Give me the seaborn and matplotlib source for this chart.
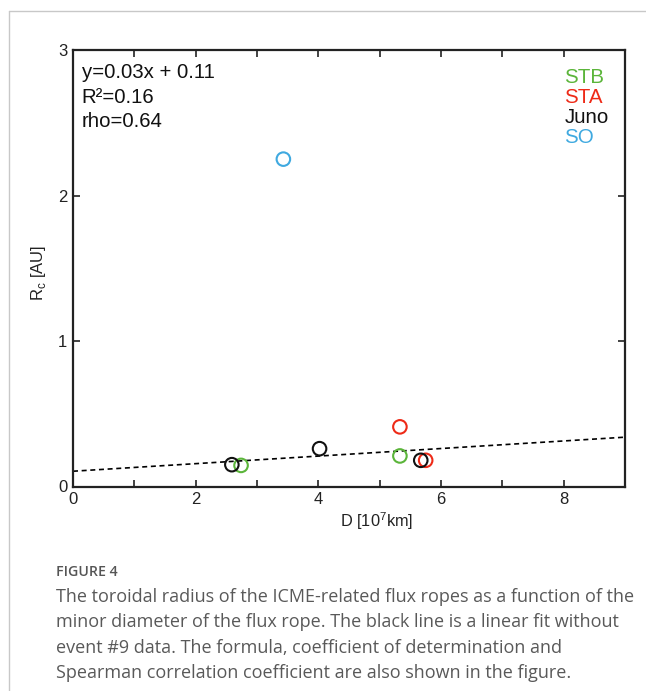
import numpy as np
import pandas as pd
import seaborn as sns
import matplotlib.pyplot as plt
from matplotlib.lines import Line2D

# values: minor diameter D [10^7 km] vs toroidal radius Rc [AU]
stb_d = [2.74, 5.33]
stb_r = [0.145, 0.21]
sta_d = [5.33, 5.75]
sta_r = [0.41, 0.18]
juno_d = [2.59, 4.02, 5.67]
juno_r = [0.15, 0.26, 0.18]
so_d = [3.43]
so_r = [2.25]

spacecraft = ["STB", "STA", "Juno", "SO"]
colours = ["#5bb53a", "#ee2a17", "#111111", "#3fa9e0"]

# linear fit (without event #9)
fit_slope = 0.026
fit_intercept = 0.105
fit_x = [0, 9]

df = pd.concat([
    pd.DataFrame({"D": stb_d, "Rc": stb_r, "sc": "STB"}),
    pd.DataFrame({"D": sta_d, "Rc": sta_r, "sc": "STA"}),
    pd.DataFrame({"D": juno_d, "Rc": juno_r, "sc": "Juno"}),
    pd.DataFrame({"D": so_d, "Rc": so_r, "sc": "SO"}),
], ignore_index=True)

sns.set_style("ticks")
plt.rcParams["font.family"] = ["Liberation Sans", "DejaVu Sans"]
plt.rcParams["mathtext.fontset"] = "custom"
plt.rcParams["mathtext.rm"] = "Liberation Sans"

fig = plt.figure(figsize=(6.46, 6.91), dpi=100)
ax = fig.add_axes([73 / 646, 1 - 486.5 / 691, 552 / 646, 436.5 / 691])

fit_y = [fit_slope * v + fit_intercept for v in fit_x]
sns.lineplot(x=fit_x, y=fit_y, ax=ax, color="black", linestyle=(0, (3, 2.2)),
             linewidth=1.2, zorder=1)

sns.scatterplot(data=df, x="D", y="Rc", hue="sc", hue_order=spacecraft,
                palette=dict(zip(spacecraft, colours)), s=95, legend=False,
                ax=ax, zorder=3)
# open circles, coloured edges
pts = ax.collections[-1]
fc = pts.get_facecolors()
pts.set_edgecolors(fc)
pts.set_facecolors("none")
pts.set_linewidths(1.5)

ax.set_xlim(0, 9)
ax.set_ylim(0, 3)
ax.set_xticks(np.arange(0, 10, 1))
ax.set_xticklabels(["0", "", "2", "", "4", "", "6", "", "8", ""])
ax.set_yticks([0, 1, 2, 3])
ax.tick_params(direction="in", length=5, width=1.2, top=True, right=True,
               labelsize=12, colors="#222222", pad=4)
for sp in ax.spines.values():
    sp.set_visible(True)
    sp.set_linewidth(1.6)
    sp.set_color("#222222")

ax.set_xlabel("D [10$^\\mathregular{7}$km]", fontsize=11.8, color="#222222")
ax.xaxis.set_label_coords(0.551, -0.055)
ax.set_ylabel("R$_\\mathregular{c}$ [AU]", fontsize=12, color="#222222")
ax.yaxis.set_label_coords(-0.045, 0.49)

stats = ["y=0.03x + 0.11", "R\u00b2=0.16", "rho=0.64"]
for i, t in enumerate(stats):
    ax.text(0.016, 0.948 - i * 0.056, t, transform=ax.transAxes, fontsize=14.7,
            va="center", ha="left", color="#111111")

for i, (name, c) in enumerate(zip(spacecraft, colours)):
    ax.text(0.89, 0.938 - i * 0.046, name, transform=ax.transAxes, fontsize=14.8,
            va="center", ha="left", color=c)

# page frame
fig.add_artist(Line2D([9 / 646, 1], [1 - 11 / 691, 1 - 11 / 691],
                      transform=fig.transFigure, color="#c8c8c8", linewidth=1))
fig.add_artist(Line2D([9 / 646, 9 / 646], [1 - 11 / 691, 0],
                      transform=fig.transFigure, color="#c8c8c8", linewidth=1))

cap_font = ["Open Sans", "DejaVu Sans"]
fig.text(56 / 646, 1 - 572 / 691, "FIGURE 4", fontsize=10.2, color="#555555",
         family=cap_font, va="center", ha="left", fontweight="semibold")
caption = [
    "The toroidal radius of the ICME-related flux ropes as a function of the",
    "minor diameter of the flux rope. The black line is a linear fit without",
    "event #9 data. The formula, coefficient of determination and",
    "Spearman correlation coefficient are also shown in the figure.",
]
for i, line in enumerate(caption):
    fig.text(56 / 646, 1 - (597 + i * 25.3) / 691, line, fontsize=13,
             color="#595959", family=cap_font, va="center", ha="left")

fig.savefig("out.png", dpi=100)
